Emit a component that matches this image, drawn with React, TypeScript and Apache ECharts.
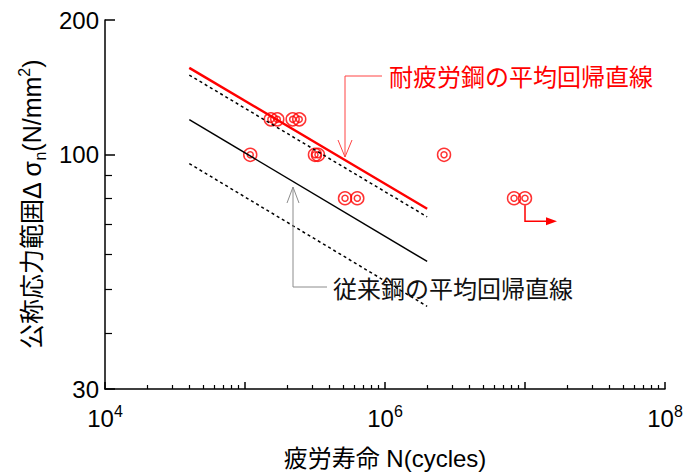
import React, { useEffect, useRef } from "react";
import * as echarts from "echarts";

// Test results: fatigue life N (cycles) and nominal stress range (N/mm^2)
const testN = [1.09e5, 1.53e5, 1.7e5, 2.19e5, 2.44e5, 3.16e5, 3.32e5, 5.18e5, 6.34e5, 2.64e6, 8.35e6, 1.0e7];
const testS = [100, 120, 120, 120, 120, 100, 100, 80, 80, 100, 80, 80];
const runoutIndex = 11;

// Regression lines (endpoints)
const lineN = [4e4, 2e6];
const newSteelMean = [156.4, 75.8];
const newSteelLower = [150.7, 72.7];
const convMean = [119.8, 57.8];
const convLower = [95.6, 45.9];

// Axis ticks and labels
const xMajorTicks = [1e4, 1e5, 1e6, 1e7, 1e8];
const xLabelValues = [1e4, 1e6, 1e8];
const xDecades = [1e4, 1e5, 1e6, 1e7];
const minorMultipliers = [2, 3, 4, 5, 6, 7, 8, 9];
const xMinorTicks = xDecades.flatMap((d) => minorMultipliers.map((m) => d * m));
const yMajorTicks = [30, 100, 200];
const yLabelValues = [30, 100, 200];
const yMinorTicks = [40, 50, 60, 70, 80, 90];

const FONT = '"Liberation Sans", "Noto Sans CJK JP", sans-serif';
const RED = "#ff0000";

export default function App() {
  const ref = useRef<HTMLDivElement>(null);
  useEffect(() => {
    if (!ref.current) return;
    const chart = echarts.init(ref.current, undefined, { renderer: "svg" });
    const pts = testN.map((n, i) => [n, testS[i]]);
    const mk = (ys: number[]) => lineN.map((n, i) => [n, ys[i]]);
    const baseX = {
      type: "log" as const,
      logBase: 10,
      min: 1e4,
      max: 1e8,
      position: "bottom" as const,
      splitLine: { show: false },
    };
    const baseY = {
      type: "log" as const,
      logBase: 10,
      min: 30,
      max: 200,
      position: "left" as const,
      splitLine: { show: false },
    };
    const option: any = {
      animation: false,
      grid: { left: 105, top: 20, width: 560, height: 373 },
      xAxis: [
        {
          ...baseX,
          name: "疲労寿命 N(cycles)",
          nameLocation: "middle",
          nameGap: 57,
          nameTextStyle: { fontSize: 24, color: "#000", fontFamily: FONT },
          axisLine: { lineStyle: { color: "#000", width: 1.5 } },
          axisTick: { inside: true, length: 7, customValues: xMajorTicks, lineStyle: { color: "#000", width: 1.5 } },
          axisLabel: {
            customValues: xLabelValues,
            margin: 14,
            formatter: (v: number) => `{b|10}{s|${Math.round(Math.log10(v))}}`,
            rich: {
              b: { fontSize: 24, fontFamily: FONT, color: "#000", lineHeight: 30 },
              s: { fontSize: 16, fontFamily: FONT, color: "#000", lineHeight: 16, verticalAlign: "top" },
            },
          },
        },
        {
          ...baseX,
          axisLine: { show: false },
          axisLabel: { show: false },
          axisTick: { inside: true, length: 4, customValues: xMinorTicks, lineStyle: { color: "#000", width: 1.2 } },
        },
      ],
      yAxis: [
        {
          ...baseY,
          name: "公称応力範囲Δ σ{sub|n}(N/mm{sup|2})",
          nameLocation: "middle",
          nameRotate: 90,
          nameGap: 57,
          nameTextStyle: {
            fontSize: 25,
            color: "#000",
            fontFamily: FONT,
            lineHeight: 32,
            rich: {
              sub: { fontSize: 16, fontFamily: FONT, color: "#000", lineHeight: 14, verticalAlign: "bottom" },
              sup: { fontSize: 16, fontFamily: FONT, color: "#000", lineHeight: 16, verticalAlign: "top" },
            },
          },
          axisLine: { lineStyle: { color: "#000", width: 1.5 } },
          axisTick: { inside: true, length: 10, customValues: yMajorTicks, lineStyle: { color: "#000", width: 1.5 } },
          axisLabel: {
            customValues: yLabelValues,
            margin: 6,
            fontSize: 24,
            fontFamily: FONT,
            color: "#000",
            formatter: (v: number) => String(Math.round(v)),
          },
        },
        {
          ...baseY,
          axisLine: { show: false },
          axisLabel: { show: false },
          axisTick: { inside: true, length: 7, customValues: yMinorTicks, lineStyle: { color: "#000", width: 1.2 } },
        },
      ],
      series: [
        { type: "line", data: mk(newSteelMean), symbol: "none", silent: true, lineStyle: { color: RED, width: 2.5 } },
        { type: "line", data: mk(newSteelLower), symbol: "none", silent: true, lineStyle: { color: "#000", width: 1.5, type: [3, 3] } },
        { type: "line", data: mk(convMean), symbol: "none", silent: true, lineStyle: { color: "#000", width: 1.5 } },
        { type: "line", data: mk(convLower), symbol: "none", silent: true, lineStyle: { color: "#000", width: 1.5, type: [3, 3] } },
        {
          type: "scatter",
          data: pts,
          symbol: "circle",
          symbolSize: 13,
          silent: true,
          itemStyle: { color: "rgba(0,0,0,0)", borderColor: RED, borderWidth: 1.5 },
        },
        {
          type: "scatter",
          data: pts,
          symbol: "circle",
          symbolSize: 6,
          silent: true,
          itemStyle: { color: "rgba(0,0,0,0)", borderColor: RED, borderWidth: 1.5 },
        },
      ],
    };
    chart.setOption(option);

    const p = chart.convertToPixel({ gridIndex: 0 }, [testN[runoutIndex], testS[runoutIndex]]) as number[];
    const px = p[0];
    const py = p[1];
    chart.setOption({
      graphic: [
        {
          type: "polyline",
          shape: { points: [[382, 76], [345, 76], [345, 157]] },
          style: { stroke: "#ff4444", lineWidth: 1, fill: null },
          z: 10,
        },
        {
          type: "polyline",
          shape: { points: [[338, 140], [345, 157], [352, 140]] },
          style: { stroke: "#ff4444", lineWidth: 1, fill: null },
          z: 10,
        },
        {
          type: "text",
          x: 389,
          y: 77,
          style: { text: "耐疲労鋼の平均回帰直線", fontSize: 24, fontFamily: FONT, fill: RED, verticalAlign: "middle", align: "left" },
          z: 10,
        },
        {
          type: "polyline",
          shape: { points: [[327, 287], [293, 287], [293, 187]] },
          style: { stroke: "#8c8c8c", lineWidth: 1, fill: null },
          z: 10,
        },
        {
          type: "polyline",
          shape: { points: [[287, 203], [293, 187], [299, 203]] },
          style: { stroke: "#8c8c8c", lineWidth: 1, fill: null },
          z: 10,
        },
        {
          type: "text",
          x: 333,
          y: 289,
          style: { text: "従来鋼の平均回帰直線", fontSize: 24, fontFamily: FONT, fill: "#111", verticalAlign: "middle", align: "left" },
          z: 10,
        },
        {
          type: "polyline",
          shape: { points: [[px, py + 7], [px, py + 23], [px + 22, py + 23]] },
          style: { stroke: RED, lineWidth: 1.5, fill: null },
          z: 10,
        },
        {
          type: "polygon",
          shape: { points: [[px + 21, py + 19], [px + 32, py + 23], [px + 21, py + 27]] },
          style: { fill: RED },
          z: 10,
        },
      ],
    });
    return () => chart.dispose();
  }, []);
  return <div ref={ref} style={{ position: "absolute", left: 0, top: 0, width: 699, height: 475 }} />;
}
